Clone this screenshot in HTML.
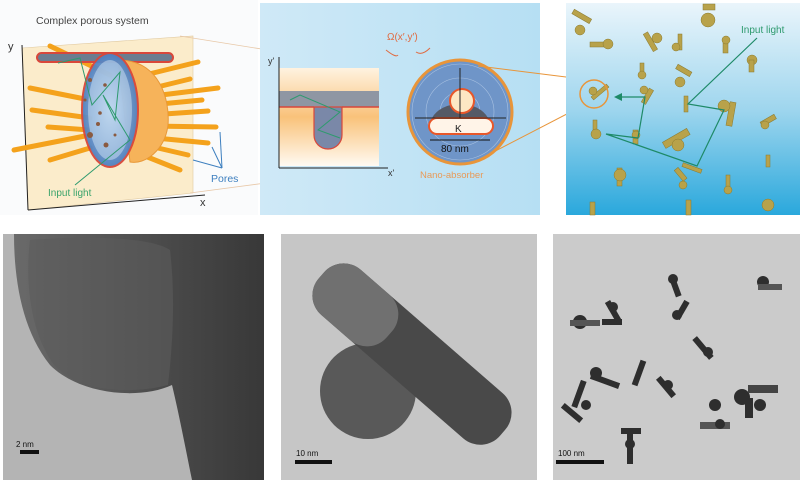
<!DOCTYPE html>
<html><head><meta charset="utf-8"><style>
body{margin:0;width:800px;height:480px;background:#fff;overflow:hidden;font-family:"Liberation Sans",sans-serif}
svg{display:block}
</style></head><body>
<svg width="800" height="480" viewBox="0 0 800 480" xmlns="http://www.w3.org/2000/svg">
<defs>
<linearGradient id="rb" x1="0" y1="0" x2="0" y2="1"><stop offset="0" stop-color="#eaf5fb"/><stop offset="0.5" stop-color="#9fd6ee"/><stop offset="1" stop-color="#2aa8dc"/></linearGradient>
<linearGradient id="mb" x1="0" y1="0" x2="1" y2="0"><stop offset="0" stop-color="#cfe9f7"/><stop offset="1" stop-color="#b6dff3"/></linearGradient>
<linearGradient id="or" x1="0" y1="0" x2="0" y2="1"><stop offset="0" stop-color="#fff3e0"/><stop offset="0.5" stop-color="#f9c27a"/><stop offset="1" stop-color="#fffaf2"/></linearGradient>
<linearGradient id="t1" x1="0" y1="0" x2="1" y2="0"><stop offset="0" stop-color="#6a6a6a"/><stop offset="0.6" stop-color="#4a4a4a"/><stop offset="1" stop-color="#383838"/></linearGradient>
<radialGradient id="bl" cx="0.5" cy="0.5" r="0.5"><stop offset="0" stop-color="#a8c8ec"/><stop offset="1" stop-color="#4e7fbf"/></radialGradient>
</defs>
<!-- Left top panel -->
<rect x="0" y="0" width="258" height="215" fill="#fafbfc"/>
<polygon points="22,48 193,36 193,193 28,210" fill="#fbeccb" stroke="#e0c9a0" stroke-width="0.6"/>
<line x1="28" y1="210" x2="205" y2="195" stroke="#222" stroke-width="1"/>
<line x1="22" y1="45" x2="28" y2="210" stroke="#222" stroke-width="1"/>
<text x="8" y="50" font-size="11" fill="#333">y</text>
<text x="200" y="206" font-size="11" fill="#333">x</text>
<text x="36" y="24" font-size="10.5" fill="#444">Complex porous system</text>
<g stroke="#f4a21c" stroke-width="5" stroke-linecap="round">
<line x1="50" y1="46" x2="110" y2="75"/><line x1="30" y1="88" x2="90" y2="100"/>
<line x1="32" y1="110" x2="90" y2="118"/><line x1="48" y1="127" x2="90" y2="130"/>
<line x1="14" y1="150" x2="85" y2="136"/><line x1="50" y1="160" x2="90" y2="148"/>
<line x1="145" y1="75" x2="198" y2="62"/><line x1="145" y1="90" x2="190" y2="79"/>
<line x1="145" y1="97" x2="218" y2="88"/><line x1="150" y1="105" x2="202" y2="100"/>
<line x1="150" y1="115" x2="208" y2="111"/><line x1="150" y1="126" x2="216" y2="127"/>
<line x1="145" y1="137" x2="208" y2="143"/><line x1="145" y1="145" x2="188" y2="155"/>
<line x1="130" y1="150" x2="180" y2="170"/>
</g>
<rect x="37" y="53" width="136" height="9" rx="4.5" fill="#6b7d90" stroke="#d9473a" stroke-width="2"/>
<path d="M118,60 C160,60 170,100 168,125 C165,150 145,165 130,162 Z" fill="#f6b35a" stroke="#e89838"/>
<ellipse cx="110" cy="110" rx="28" ry="57" fill="url(#bl)" stroke="#d9473a" stroke-width="2" opacity="0.95"/>
<ellipse cx="110" cy="110" rx="22" ry="50" fill="#cfe3f4" opacity="0.5"/>
<g fill="#8a5a40"><circle cx="90" cy="80" r="2"/><circle cx="105" cy="85" r="1.8"/><circle cx="85" cy="100" r="1.5"/><circle cx="100" cy="113" r="1.8"/><circle cx="90" cy="135" r="3"/><circle cx="98" cy="124" r="2"/><circle cx="106" cy="145" r="2.5"/><circle cx="115" cy="135" r="1.5"/></g>
<polyline points="58,63 80,58 92,105 120,72 115,120 103,95 130,140 75,185" fill="none" stroke="#2e9a6e" stroke-width="1"/>
<text x="48" y="196" font-size="10" fill="#3aa36b">Input light</text>
<text x="211" y="182" font-size="10.5" fill="#3d7fbf">Pores</text>
<g stroke="#3d7fbf" stroke-width="1" fill="none"><line x1="222" y1="168" x2="193" y2="160"/><line x1="222" y1="168" x2="212" y2="147"/><line x1="222" y1="168" x2="220" y2="132"/></g>
<line x1="180" y1="36" x2="380" y2="68" stroke="#e8c8a8" stroke-width="0.8"/>
<line x1="190" y1="193" x2="380" y2="168" stroke="#e8c8a8" stroke-width="0.8"/>
<!-- Middle top panel -->
<rect x="260" y="3" width="280" height="212" fill="url(#mb)"/>
<rect x="279" y="68" width="100" height="98" fill="url(#or)"/>
<rect x="279" y="91" width="100" height="16" fill="#8f96a3"/>
<path d="M314,107 L342,107 L342,135 A14,14 0 0 1 314,135 Z" fill="#7a88a8" stroke="#d9473a" stroke-width="1.2"/>
<line x1="279" y1="107" x2="314" y2="107" stroke="#d9473a" stroke-width="1.5"/><line x1="342" y1="107" x2="379" y2="107" stroke="#d9473a" stroke-width="1.5"/>
<polyline points="290,100 300,95 340,112 318,130 340,138" fill="none" stroke="#2e9a6e" stroke-width="1"/>
<line x1="279" y1="57" x2="279" y2="168" stroke="#222"/><line x1="279" y1="168" x2="388" y2="168" stroke="#222"/>
<text x="268" y="64" font-size="9" fill="#333">y'</text><text x="388" y="176" font-size="9" fill="#333">x'</text>
<circle cx="460" cy="112" r="52" fill="#6f95c8" stroke="#e8953a" stroke-width="3"/>
<circle cx="460" cy="112" r="48" fill="none" stroke="#a9c2e2" stroke-width="0.6"/>
<circle cx="460" cy="112" r="34" fill="none" stroke="#a9c2e2" stroke-width="0.6"/>
<circle cx="460" cy="112" r="20" fill="none" stroke="#a9c2e2" stroke-width="0.6"/>
<path d="M432,118 A30,22 0 0 1 488,118 Z" fill="#555a66"/>
<rect x="429" y="118" width="64" height="16" rx="8" fill="#fff4e8" stroke="#e8572a" stroke-width="2"/>
<circle cx="462" cy="101" r="12" fill="#fde7c4" stroke="#e8572a" stroke-width="2"/>
<line x1="460" y1="68" x2="460" y2="118" stroke="#222"/><line x1="415" y1="118" x2="506" y2="118" stroke="#222"/>
<text x="455" y="132" font-size="10" fill="#222">K</text>
<line x1="430" y1="140" x2="490" y2="140" stroke="#111" stroke-width="1"/>
<text x="441" y="152" font-size="10" fill="#111">80 nm</text>
<text x="420" y="178" font-size="9.5" fill="#e89a58">Nano-absorber</text>
<text x="387" y="40" font-size="10" fill="#e06a40">Ω(x′,y′)</text>
<path d="M386,50 Q396,58 398,55" fill="none" stroke="#e06a40"/>
<path d="M430,48 Q422,56 416,52" fill="none" stroke="#e06a40"/>
<line x1="478" y1="66" x2="590" y2="80" stroke="#e8953a" stroke-width="1"/>
<line x1="478" y1="160" x2="590" y2="102" stroke="#e8953a" stroke-width="1"/>
<!-- Right top panel -->
<rect x="566" y="3" width="234" height="212" fill="url(#rb)"/>
<g fill="#b8a24a" stroke="#8a7a30" stroke-width="0.5">
<rect x="572" y="14" width="20" height="5" transform="rotate(30 582 16)"/><circle cx="580" cy="30" r="5"/>
<rect x="590" y="42" width="18" height="5"/><circle cx="608" cy="44" r="5"/>
<rect x="648" y="32" width="5" height="20" transform="rotate(-30 650 42)"/><circle cx="657" cy="38" r="5"/>
<rect x="678" y="34" width="4" height="16"/><circle cx="676" cy="47" r="4"/>
<circle cx="708" cy="20" r="7"/><rect x="703" y="4" width="12" height="6"/>
<rect x="723" y="38" width="5" height="15"/><circle cx="726" cy="40" r="4"/>
<circle cx="752" cy="60" r="5"/><rect x="749" y="60" width="5" height="12"/>
<rect x="640" y="63" width="4" height="12"/><circle cx="642" cy="75" r="4"/>
<rect x="676" y="68" width="16" height="5" transform="rotate(30 684 70)"/><circle cx="680" cy="82" r="5"/>
<rect x="590" y="90" width="20" height="4" transform="rotate(-40 600 92)"/><circle cx="593" cy="91" r="4"/>
<rect x="645" y="88" width="5" height="16" transform="rotate(30 647 96)"/><circle cx="644" cy="90" r="4"/>
<rect x="684" y="96" width="4" height="16"/>
<rect x="728" y="102" width="6" height="24" transform="rotate(10 731 114)"/><circle cx="724" cy="106" r="6"/>
<rect x="760" y="118" width="16" height="5" transform="rotate(-30 768 120)"/><circle cx="765" cy="125" r="4"/>
<rect x="593" y="120" width="4" height="12"/><circle cx="596" cy="134" r="5"/>
<rect x="633" y="130" width="5" height="14"/><circle cx="636" cy="135" r="4"/>
<rect x="662" y="135" width="28" height="7" transform="rotate(-30 676 138)"/><circle cx="678" cy="145" r="6"/>
<rect x="682" y="166" width="20" height="4" transform="rotate(20 692 168)"/>
<rect x="766" y="155" width="4" height="12"/>
<rect x="617" y="168" width="5" height="18"/><circle cx="620" cy="175" r="6"/>
<rect x="674" y="172" width="14" height="5" transform="rotate(50 681 174)"/><circle cx="683" cy="185" r="4"/>
<rect x="726" y="175" width="4" height="14"/><circle cx="728" cy="190" r="4"/>
<circle cx="768" cy="205" r="6"/><rect x="590" y="202" width="5" height="13"/><rect x="686" y="200" width="5" height="15"/>
</g>
<ellipse cx="594" cy="94" rx="14" ry="14" fill="none" stroke="#e8953a" stroke-width="1.5"/>
<g stroke="#1e8a68" stroke-width="1.2" fill="none">
<polyline points="757,38 688,104 724,110 697,166 606,134 638,138 645,97 619,97"/>
</g>
<polygon points="614,97 622,93 622,101" fill="#1e8a68"/>
<text x="741" y="33" font-size="10" fill="#2e9a6e">Input light</text>
<!-- Bottom TEM images -->
<rect x="3" y="234" width="261" height="246" fill="#b4b4b4"/>
<path d="M14,234 L264,234 L264,480 L192,480 C184,440 178,410 172,385 C140,400 80,395 50,365 C22,330 14,280 14,234 Z" fill="url(#t1)"/>
<path d="M30,240 C80,236 150,236 170,250 C176,300 172,350 168,385 C130,395 75,392 52,362 C30,330 25,280 30,240 Z" fill="#5c5c5c" opacity="0.6"/>
<rect x="20" y="450" width="19" height="4" fill="#111"/>
<text x="16" y="447" font-size="8" fill="#111">2 nm</text>
<rect x="281" y="234" width="256" height="246" fill="#c6c6c6"/>
<circle cx="368" cy="391" r="48" fill="#595959"/>
<g transform="rotate(41 400 345)"><rect x="295" y="314" width="240" height="60" rx="26" fill="#494949"/></g>
<g transform="rotate(41 400 345)"><rect x="295" y="314" width="90" height="60" rx="26" fill="#707070"/></g>
<rect x="295" y="460" width="37" height="4" fill="#111"/>
<text x="296" y="456" font-size="8" fill="#111">10 nm</text>
<rect x="553" y="234" width="247" height="246" fill="#cbcbcb"/>
<g fill="#2e2e2e">
<rect x="672" y="275" width="6" height="22" transform="rotate(-20 675 286)"/><circle cx="673" cy="279" r="5"/>
<rect x="602" y="319" width="20" height="6"/><circle cx="580" cy="322" r="7"/><rect x="570" y="320" width="30" height="6" fill="#555"/>
<rect x="610" y="300" width="6" height="22" transform="rotate(-30 613 311)"/><circle cx="613" cy="307" r="5"/>
<circle cx="763" cy="282" r="6"/><rect x="758" y="284" width="24" height="6" fill="#555"/>
<rect x="679" y="300" width="6" height="20" transform="rotate(30 682 310)"/><circle cx="677" cy="315" r="5"/>
<circle cx="596" cy="373" r="6"/><rect x="590" y="378" width="30" height="6" transform="rotate(20 605 381)"/>
<rect x="636" y="360" width="6" height="26" transform="rotate(20 639 373)"/>
<rect x="576" y="380" width="6" height="28" transform="rotate(20 579 394)"/>
<circle cx="586" cy="405" r="5"/><rect x="560" y="410" width="24" height="6" transform="rotate(40 572 413)"/>
<rect x="663" y="375" width="6" height="24" transform="rotate(-40 666 387)"/><circle cx="668" cy="385" r="5"/>
<rect x="700" y="335" width="6" height="26" transform="rotate(-40 703 348)"/><circle cx="708" cy="352" r="5"/>
<circle cx="742" cy="397" r="8"/><circle cx="760" cy="405" r="6"/><rect x="748" y="385" width="30" height="8" fill="#444"/><rect x="745" y="398" width="8" height="20"/>
<circle cx="715" cy="405" r="6"/><rect x="700" y="422" width="30" height="7" fill="#555"/><circle cx="720" cy="424" r="5"/>
<rect x="621" y="428" width="20" height="6"/><rect x="627" y="430" width="6" height="34"/><circle cx="630" cy="444" r="5"/>
</g>
<rect x="556" y="460" width="48" height="4" fill="#111"/>
<text x="558" y="456" font-size="8" fill="#111">100 nm</text>
</svg>
</body></html>
